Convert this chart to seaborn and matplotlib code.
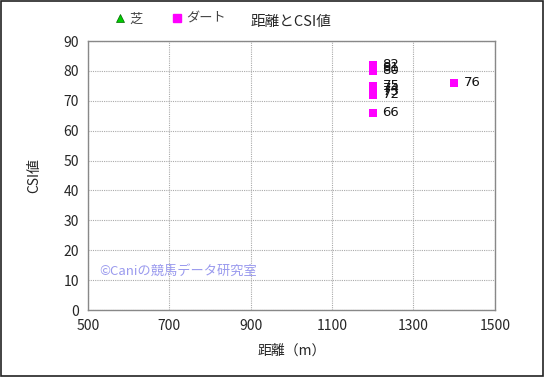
import matplotlib
matplotlib.use("Agg")
import pandas as pd
import matplotlib.pyplot as plt
import seaborn as sns
from matplotlib.lines import Line2D
from matplotlib.patches import Rectangle

# ダート races (distance, CSI)
dirt_dist = [1200, 1200, 1200, 1200, 1200, 1200, 1200, 1200, 1400]
dirt_csi = [82, 81, 80, 75, 74, 73, 72, 66, 76]
# 芝 races: none
turf_dist = []
turf_csi = []

xticks = [500, 700, 900, 1100, 1300, 1500]
yticks = list(range(0, 91, 10))

df = pd.DataFrame({"距離": dirt_dist, "CSI": dirt_csi})

sns.set_style("white")
plt.rcParams["font.family"] = ["Noto Sans CJK JP", "DejaVu Sans"]

fig = plt.figure(figsize=(5.45, 3.77), dpi=100)
ax = fig.add_axes([0.1615, 0.1777, 0.7465, 0.7133])

sns.scatterplot(x="距離", y="CSI", data=df, marker="s", color="#ff00ff",
                s=40, linewidth=0, ax=ax, zorder=3)
for x, y in zip(dirt_dist, dirt_csi):
    ax.annotate(str(y), (x, y), xytext=(7, 0), textcoords="offset points",
                va="center", ha="left", fontsize=9.5, color="#111111",
                family=["DejaVu Sans"])

ax.set_xlim(500, 1500)
ax.set_ylim(0, 90)
ax.set_xticks(xticks)
ax.set_yticks(yticks)
ax.tick_params(labelsize=10, length=3, color="#888888", direction="out")
ax.grid(True, color="#aaaaaa", linestyle=(0, (1, 1)), linewidth=0.8)
for s in ax.spines.values():
    s.set_color("#888888")
    s.set_linewidth(1)
ax.set_xlabel("距離（m）", fontsize=10, labelpad=8)
ax.set_ylabel("CSI値", fontsize=10, labelpad=16)
ax.set_title("距離とCSI値", fontsize=10.5, pad=11)

ax.text(528, 13, "©Caniの競馬データ研究室", color="#9a9aee", fontsize=9.5,
        va="center", ha="left", zorder=4)

handles = [Line2D([], [], marker="^", color="#00cc00", markeredgecolor="#006600",
                  markeredgewidth=0.5, linestyle="none", markersize=6),
           Line2D([], [], marker="s", color="#ff00ff", linestyle="none", markersize=6)]
fig.legend(handles, ["芝", "ダート"], loc="center left", bbox_to_anchor=(0.175, 0.95),
           ncol=2, frameon=False, fontsize=9.5, handletextpad=-0.3, columnspacing=1.6,
           labelcolor="#444444")

fig.patches.append(Rectangle((0.002, 0.003), 0.995, 0.994, transform=fig.transFigure,
                             fill=False, edgecolor="#222222", linewidth=1.2))

plt.savefig("out.png", dpi=100)
